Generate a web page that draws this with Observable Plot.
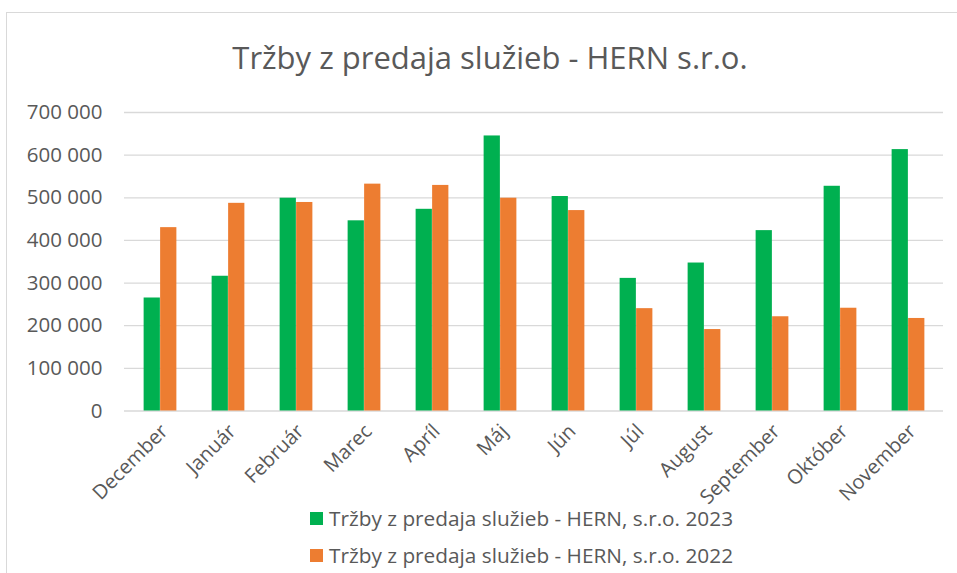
<!DOCTYPE html>
<html>
<head>
<meta charset="utf-8">
<script src="https://cdn.jsdelivr.net/npm/d3@7"></script>
<script src="https://cdn.jsdelivr.net/npm/@observablehq/plot@0.6"></script>
<style>
  html, body { margin: 0; padding: 0; background: #fff; }
  body { width: 957px; height: 573px; overflow: hidden; position: relative; font-family: "Open Sans", sans-serif; }
  #frame { position: absolute; left: 6px; top: 12px; width: 960px; height: 600px; border-left: 1px solid #d9d9d9; border-top: 1px solid #d9d9d9; }
  #title { position: absolute; left: 0; top: 36px; width: 980px; text-align: center; font-size: 31px; color: #595959; white-space: nowrap; }
  #chart { position: absolute; left: 0; top: 90px; }
  #legend { position: absolute; left: 310px; top: 503px; font-size: 20.8px; color: #595959; }
  .row { display: flex; align-items: center; height: 30px; margin-bottom: 7px; white-space: nowrap; }
  .sw { width: 13px; height: 13px; margin-right: 6px; }
</style>
</head>
<body>
<div id="frame"></div>
<div id="title"></div>
<div id="chart"></div>
<div id="legend"></div>
<script>
const title = "Tržby z predaja služieb - HERN s.r.o.";
const months = ["December", "Január", "Február", "Marec", "Apríl", "Máj", "Jún", "Júl", "August", "September", "Október", "November"];
const seriesNames = ["Tržby z predaja služieb - HERN, s.r.o. 2023", "Tržby z predaja služieb - HERN, s.r.o. 2022"];
const values2023 = [265000, 316000, 499000, 446000, 473000, 645000, 503000, 311000, 347000, 423000, 527000, 613000];
const values2022 = [430000, 487000, 489000, 532000, 529000, 499000, 470000, 240000, 191000, 221000, 241000, 217000];
const colors = ["#00b050", "#ed7d31"];
const yTicks = [0, 100000, 200000, 300000, 400000, 500000, 600000, 700000];

const rows = months.map((m, i) => ({month: m, v2023: values2023[i], v2022: values2022[i]}));

document.getElementById("title").textContent = title;

const fmt = d => d3.format(",")(d).replace(/,/g, " ");

// band step = 819/12 = 68.25 px; each bar ~16.5 px, pair centred in its band
const step = 68.25, barW = 16.5, outer = (step - 2 * barW) / 2;

const chart = Plot.plot({
  width: 957,
  height: 440,
  marginLeft: 124,
  marginRight: 14,
  marginTop: 22,
  marginBottom: 119.5,
  style: {fontFamily: "Open Sans, sans-serif", fontSize: "20px", color: "#595959", background: "transparent"},
  x: {domain: months, padding: 0, label: null},
  y: {domain: [0, 700000], label: null},
  marks: [
    Plot.ruleY(yTicks, {stroke: "#d9d9d9", strokeWidth: 1.3}),
    Plot.axisY(yTicks, {tickSize: 0, tickPadding: 22, tickFormat: fmt, label: null, fontSize: 20.5, fill: "#595959"}),
    Plot.axisX({tickSize: 0, tickRotate: -45, tickPadding: 17, dx: 4, label: null, fontSize: 20, fill: "#595959"}),
    Plot.barY(rows, {x: "month", y: "v2023", fill: colors[0], insetLeft: outer, insetRight: outer + barW}),
    Plot.barY(rows, {x: "month", y: "v2022", fill: colors[1], insetLeft: outer + barW, insetRight: outer})
  ]
});
document.getElementById("chart").appendChild(chart);

const legend = document.getElementById("legend");
seriesNames.forEach((s, i) => {
  const row = document.createElement("div");
  row.className = "row";
  const sw = document.createElement("div");
  sw.className = "sw";
  sw.style.background = colors[i];
  const t = document.createElement("span");
  t.textContent = s;
  row.appendChild(sw);
  row.appendChild(t);
  legend.appendChild(row);
});
</script>
</body>
</html>
